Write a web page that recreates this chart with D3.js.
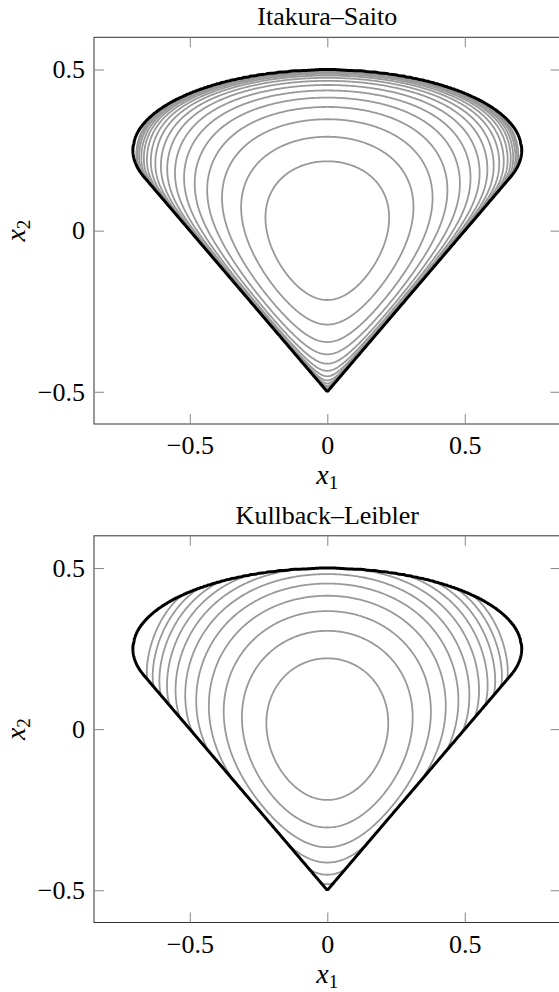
<!DOCTYPE html>
<html>
<head>
<meta charset="utf-8">
<script src="https://cdn.jsdelivr.net/npm/d3@7"></script>
<style>
  body { margin: 0; background: #fff; }
  svg { display: block; }
  text { font-family: "Liberation Serif", "DejaVu Serif", serif; fill: #000; }
</style>
</head>
<body>
<div id="chart"></div>
<script>
// panel titles and ticks
const titles = ['Itakura\u2013Saito', 'Kullback\u2013Leibler'];
const xTicks = [-0.5, 0, 0.5];
const yTicks = [-0.5, 0, 0.5];
const xDomain = [-0.8485, 0.8485];
const yDomain = [-0.6, 0.6];

// domain shape: apex of the V and the ellipse on top;
// the straight sides run from the apex tangent to the ellipse
const apex = [0, -0.5];
const arcCenter = [0, 0.25];
const arcRadii = [0.7071, 0.25];

// weights of the slack terms (left side, right side, top arc, side walls)
const isWeights = [1, 1, 2, 1.4];
const klWeights = [1, 1, 2, 0.5];
const klWallQuad = 1.0;

// contour levels (estimated from where contours cross x1 = 0 and the sides)
const isLevels = [0.41, 0.83, 1.30, 1.78, 2.29, 2.83, 3.40, 4.0, 4.6, 5.25, 5.9, 6.6, 7.3, 8.0, 8.8, 9.6, 10.4];
const klLevels = [0.4, 0.8, 1.2, 1.6, 2.0, 2.4, 2.8, 3.2, 3.6, 4.0, 4.4];

const width = 559, height = 992;
const box = { left: 94, width: 466.6, height: 386.7 };
const panelTops = [37.3, 535.8];

// tangent point of the side lines on the ellipse
const va = (apex[1] - arcCenter[1]) / arcRadii[1];
const tangentY = arcCenter[1] + arcRadii[1] / va;
const tangentX = arcCenter[0] + arcRadii[0] * Math.sqrt(1 - 1 / (va * va));
const sideSlope = (tangentY - apex[1]) / (tangentX - apex[0]);

function slacks(x, y) {
    const h0 = arcCenter[1] + arcRadii[1];
    const half = -apex[1];
    const lamL = (y - apex[1] + sideSlope * (x - apex[0])) / half;
    const lamR = (y - apex[1] - sideSlope * (x - apex[0])) / half;
    const t = 1 - Math.pow((x - arcCenter[0]) / arcRadii[0], 2);
    const arc = arcCenter[1] + arcRadii[1] * Math.sqrt(Math.max(t, 0));
    const lamT = (arc - y) / h0;
    return [lamL, lamR, lamT, t];
}

function fieldIS(x, y) {
    const l = slacks(x, y);
    let s = 0;
    for (let i = 0; i < 4; i++) s -= isWeights[i] * Math.log(Math.max(l[i], 1e-12));
    return s;
}

function kl(v) {
    v = Math.max(v, 0);
    return (v > 0 ? v * Math.log(v) : 0) - v + 1;
}

function fieldKL(x, y) {
    const l = slacks(x, y);
    let s = 0;
    for (let i = 0; i < 4; i++) s += klWeights[i] * kl(l[i]);
    s += 2 * klWallQuad * (1 - l[3]);
    return s;
}

// >= 0 inside the convex hull of the ellipse and the apex
function hullSlack(x, y) {
    const l = slacks(x, y);
    let s = Math.min(l[0], l[1], l[2]);
    if (y >= tangentY) {
        const e = 1 - Math.pow((x - arcCenter[0]) / arcRadii[0], 2)
                    - Math.pow((y - arcCenter[1]) / arcRadii[1], 2);
        s = Math.min(s, e);
    }
    return s;
}

// sampling grid
const gx0 = -0.76, gx1 = 0.76, gy0 = -0.56, gy1 = 0.56;
const nx = 340, ny = 280;
const dx = (gx1 - gx0) / (nx - 1), dy = (gy1 - gy0) / (ny - 1);

function sample(fn) {
    const vals = new Float64Array(nx * ny);
    for (let j = 0; j < ny; j++) {
        const y = gy0 + j * dy;
        for (let i = 0; i < nx; i++) {
            vals[j * nx + i] = fn(gx0 + i * dx, y);
        }
    }
    return vals;
}

const svg = d3.select('#chart').append('svg')
    .attr('width', width)
    .attr('height', height);

const fields = [fieldIS, fieldKL];
const levelSets = [isLevels, klLevels];

const boundaryVals = sample(hullSlack);
const boundary = d3.contours().size([nx, ny]).thresholds([0])(Array.from(boundaryVals))[0];

panelTops.forEach((top, p) => {
    const x = d3.scaleLinear().domain(xDomain).range([box.left, box.left + box.width]);
    const y = d3.scaleLinear().domain(yDomain).range([top + box.height, top]);

    const proj = d3.geoTransform({
        point: function(cx, cy) {
            this.stream.point(x(gx0 + (cx - 0.5) * dx), y(gy0 + (cy - 0.5) * dy));
        }
    });
    const path = d3.geoPath(proj);

    const g = svg.append('g');

    // axes box
    g.append('rect')
        .attr('x', box.left)
        .attr('y', top)
        .attr('width', box.width)
        .attr('height', box.height)
        .attr('fill', 'none')
        .attr('stroke', '#333')
        .attr('stroke-width', 1);

    const fmt = d3.format('');
    const axB = g.append('g')
        .attr('transform', `translate(0,${top + box.height})`)
        .call(d3.axisBottom(x).tickValues(xTicks).tickSizeInner(-10).tickSizeOuter(0).tickPadding(12).tickFormat(fmt));
    const axT = g.append('g')
        .attr('transform', `translate(0,${top})`)
        .call(d3.axisTop(x).tickValues(xTicks).tickSizeInner(-10).tickSizeOuter(0).tickFormat(''));
    const axL = g.append('g')
        .attr('transform', `translate(${box.left},0)`)
        .call(d3.axisLeft(y).tickValues(yTicks).tickSizeInner(-10).tickSizeOuter(0).tickPadding(9).tickFormat(fmt));
    const axR = g.append('g')
        .attr('transform', `translate(${box.left + box.width},0)`)
        .call(d3.axisRight(y).tickValues(yTicks).tickSizeInner(-10).tickSizeOuter(0).tickFormat(''));

    [axB, axT, axL, axR].forEach(a => {
        a.select('.domain').remove();
        a.selectAll('.tick line').attr('stroke', '#888').attr('stroke-width', 1);
        a.selectAll('.tick text')
            .attr('font-family', '"Liberation Serif", serif')
            .attr('font-size', 26)
            .attr('fill', '#000');
    });

    // clip for contours
    const clipId = 'clip' + p;
    svg.append('clipPath').attr('id', clipId)
        .append('path').attr('d', path(boundary));

    const vals = sample(fields[p]);
    const neg = Array.from(vals, v => -v);
    const conts = d3.contours().size([nx, ny]).thresholds(levelSets[p].map(l => -l))(neg);

    g.append('g')
        .attr('clip-path', `url(#${clipId})`)
        .selectAll('path')
        .data(conts)
        .join('path')
        .attr('d', path)
        .attr('fill', 'none')
        .attr('stroke', '#999')
        .attr('stroke-width', 1.8);

    // domain boundary
    g.append('path')
        .attr('d', path(boundary))
        .attr('fill', 'none')
        .attr('stroke', '#000')
        .attr('stroke-width', 3)
        .attr('stroke-linejoin', 'miter');

    // title
    g.append('text')
        .attr('x', x(0))
        .attr('y', top - 12)
        .attr('text-anchor', 'middle')
        .attr('font-size', 26)
        .text(titles[p]);

    // axis labels
    const xl = g.append('text')
        .attr('x', x(0))
        .attr('y', top + box.height + 60)
        .attr('text-anchor', 'middle')
        .attr('font-size', 28);
    xl.append('tspan').attr('font-style', 'italic').text('x');
    xl.append('tspan').attr('font-size', 19).attr('dy', 5).text('1');

    const yl = g.append('text')
        .attr('transform', `translate(25,${y(0)}) rotate(-90)`)
        .attr('text-anchor', 'middle')
        .attr('font-size', 28);
    yl.append('tspan').attr('font-style', 'italic').text('x');
    yl.append('tspan').attr('font-size', 19).attr('dy', 5).text('2');
});
</script>
</body>
</html>
